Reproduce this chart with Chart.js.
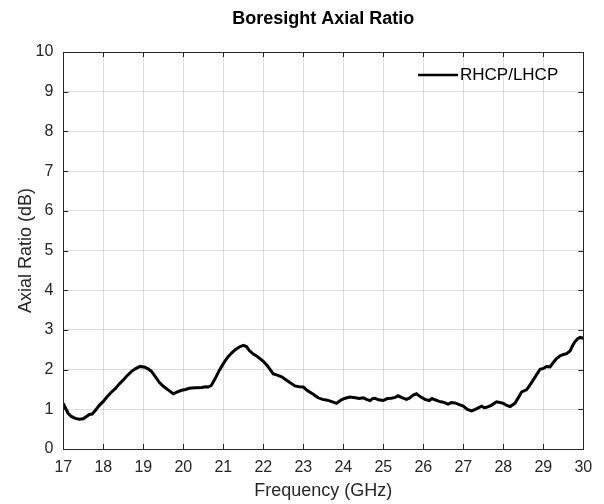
<!DOCTYPE html>
<html>
<head>
<meta charset="utf-8">
<script src="https://cdn.jsdelivr.net/npm/chart.js@4/dist/chart.umd.min.js"></script>
<style>
  html, body { margin: 0; padding: 0; background: #fff; }
  #wrap { width: 604px; height: 504px; }
</style>
</head>
<body>
<div id="wrap"><canvas id="grafico" width="604" height="504"></canvas></div>
<script>
// Dados (frequência em GHz, razão axial em dB)
const frequencias = [
  17.00, 17.06, 17.12, 17.20, 17.30, 17.40, 17.50, 17.58, 17.65, 17.72,
  17.80, 17.90, 18.00, 18.10, 18.20, 18.30, 18.40, 18.50, 18.60, 18.70,
  18.80, 18.92, 19.04, 19.12, 19.20, 19.30, 19.40, 19.50, 19.62, 19.75,
  19.85, 19.96, 20.05, 20.15, 20.30, 20.46, 20.55, 20.62, 20.70, 20.80,
  20.90, 21.00, 21.10, 21.20, 21.30, 21.40, 21.50, 21.58, 21.65, 21.75,
  21.85, 22.00, 22.10, 22.25, 22.35, 22.46, 22.60, 22.79, 22.90, 23.00,
  23.10, 23.25, 23.37, 23.48, 23.60, 23.75, 23.83, 23.95, 24.05, 24.17,
  24.30, 24.40, 24.50, 24.58, 24.67, 24.73, 24.79, 24.88, 25.00, 25.10,
  25.20, 25.30, 25.37, 25.45, 25.58, 25.65, 25.75, 25.83, 25.92, 26.04,
  26.15, 26.22, 26.29, 26.40, 26.50, 26.62, 26.70, 26.79, 26.90, 27.00,
  27.10, 27.21, 27.30, 27.40, 27.46, 27.52, 27.58, 27.70, 27.83, 27.92,
  28.00, 28.10, 28.17, 28.29, 28.38, 28.46, 28.58, 28.66, 28.75, 28.85,
  28.92, 29.00, 29.08, 29.17, 29.25, 29.33, 29.42, 29.50, 29.58, 29.67,
  29.73, 29.79, 29.86, 29.92, 30.00
];
const razaoAxial = [
  1.15, 1.02, 0.90, 0.82, 0.77, 0.75, 0.76, 0.82, 0.87, 0.88,
  0.97, 1.10, 1.20, 1.32, 1.43, 1.52, 1.64, 1.74, 1.85, 1.95,
  2.02, 2.08, 2.06, 2.02, 1.96, 1.82, 1.68, 1.58, 1.49, 1.39,
  1.44, 1.48, 1.50, 1.53, 1.54, 1.55, 1.57, 1.56, 1.60, 1.78,
  1.98, 2.15, 2.30, 2.41, 2.50, 2.57, 2.61, 2.58, 2.48, 2.39,
  2.33, 2.21, 2.10, 1.89, 1.86, 1.82, 1.72, 1.59, 1.57, 1.56,
  1.47, 1.38, 1.29, 1.25, 1.23, 1.18, 1.15, 1.24, 1.28, 1.31,
  1.29, 1.27, 1.29, 1.25, 1.22, 1.27, 1.28, 1.24, 1.22, 1.27,
  1.28, 1.30, 1.34, 1.30, 1.25, 1.28, 1.36, 1.39, 1.32, 1.25,
  1.22, 1.27, 1.24, 1.20, 1.18, 1.13, 1.17, 1.16, 1.12, 1.08,
  1.00, 0.96, 1.00, 1.05, 1.08, 1.04, 1.05, 1.10, 1.19, 1.17,
  1.15, 1.09, 1.07, 1.15, 1.30, 1.44, 1.49, 1.60, 1.74, 1.90,
  2.01, 2.03, 2.08, 2.07, 2.18, 2.28, 2.35, 2.38, 2.40, 2.47,
  2.60, 2.70, 2.78, 2.81, 2.79
];
const ticksX = [17, 18, 19, 20, 21, 22, 23, 24, 25, 26, 27, 28, 29, 30];
const ticksY = [0, 1, 2, 3, 4, 5, 6, 7, 8, 9, 10];

const tituloGrafico = 'Boresight Axial Ratio';
const tituloX = 'Frequency (GHz)';
const tituloY = 'Axial Ratio (dB)';
const rotuloSerie = 'RHCP/LHCP';

const FONTE = '"Liberation Sans", Arial, Helvetica, sans-serif';
const COR_TEXTO = '#262626';

// Título centralizado sobre a área do gráfico (estilo MATLAB)
const pluginTitulo = {
  id: 'pluginTitulo',
  afterDraw(chart) {
    const { ctx, chartArea } = chart;
    ctx.save();
    ctx.font = 'bold 18px ' + FONTE;
    ctx.fillStyle = '#000';
    ctx.textAlign = 'center';
    ctx.textBaseline = 'alphabetic';
    ctx.fillText(tituloGrafico, (chartArea.left + chartArea.right) / 2, 24);
    ctx.restore();
  }
};

// Caixa dos eixos e marcas internas nos quatro lados
const pluginCaixa = {
  id: 'pluginCaixa',
  afterDatasetsDraw(chart) {
    const { ctx, chartArea: a, scales } = chart;
    const tam = 5;
    ctx.save();
    ctx.strokeStyle = COR_TEXTO;
    ctx.lineWidth = 1;
    ctx.beginPath();
    scales.x.ticks.forEach(t => {
      const px = Math.round(scales.x.getPixelForValue(t.value)) + 0.5;
      ctx.moveTo(px, a.bottom); ctx.lineTo(px, a.bottom - tam);
      ctx.moveTo(px, a.top); ctx.lineTo(px, a.top + tam);
    });
    scales.y.ticks.forEach(t => {
      const py = Math.round(scales.y.getPixelForValue(t.value)) + 0.5;
      ctx.moveTo(a.left, py); ctx.lineTo(a.left + tam, py);
      ctx.moveTo(a.right, py); ctx.lineTo(a.right - tam, py);
    });
    ctx.stroke();
    ctx.strokeRect(Math.round(a.left) + 0.5, Math.round(a.top) + 0.5,
      Math.round(a.right - a.left), Math.round(a.bottom - a.top));
    ctx.restore();
  }
};

// Legenda dentro da área do gráfico, canto superior direito, sem caixa
const pluginLegenda = {
  id: 'pluginLegenda',
  afterDraw(chart) {
    const { ctx } = chart;
    const ds = chart.data.datasets[0];
    ctx.save();
    ctx.strokeStyle = ds.borderColor;
    ctx.lineWidth = 2.5;
    ctx.beginPath();
    ctx.moveTo(418, 75);
    ctx.lineTo(458, 75);
    ctx.stroke();
    ctx.font = '17px ' + FONTE;
    ctx.fillStyle = '#000';
    ctx.textAlign = 'left';
    ctx.textBaseline = 'middle';
    ctx.fillText(ds.label, 460, 75);
    ctx.restore();
  }
};

const ctx = document.getElementById('grafico');

new Chart(ctx, {
  type: 'line',
  data: {
    datasets: [{
      label: rotuloSerie,
      data: frequencias.map((f, i) => ({ x: f, y: razaoAxial[i] })),
      borderColor: '#000',
      borderWidth: 3,
      pointRadius: 0,
      tension: 0,
      fill: false
    }]
  },
  options: {
    responsive: false,
    animation: false,
    layout: { padding: { top: 52, right: 20.7, left: 0, bottom: 0 } },
    plugins: {
      legend: { display: false },
      title: { display: false },
      tooltip: { enabled: false }
    },
    scales: {
      x: {
        type: 'linear',
        min: 17,
        max: 30,
        afterFit(scale) { scale.height = 55; },
        afterBuildTicks(scale) { scale.ticks = ticksX.map(v => ({ value: v })); },
        ticks: {
          padding: 9,
          color: COR_TEXTO,
          font: { family: FONTE, size: 16 },
          maxRotation: 0,
          autoSkip: false
        },
        grid: { color: 'rgba(38,38,38,0.15)', drawTicks: false },
        border: { display: false },
        title: {
          display: true,
          text: tituloX,
          color: COR_TEXTO,
          font: { family: FONTE, size: 18 },
          padding: { top: 0, bottom: 2 }
        }
      },
      y: {
        type: 'linear',
        min: 0,
        max: 10,
        afterFit(scale) { scale.width = 63.3; },
        afterBuildTicks(scale) { scale.ticks = ticksY.map(v => ({ value: v })); },
        ticks: {
          padding: 10,
          color: COR_TEXTO,
          font: { family: FONTE, size: 16 },
          autoSkip: false
        },
        grid: { color: 'rgba(38,38,38,0.15)', drawTicks: false },
        border: { display: false },
        title: {
          display: true,
          text: tituloY,
          color: COR_TEXTO,
          font: { family: FONTE, size: 18 },
          padding: { top: 15, bottom: 0 }
        }
      }
    }
  },
  plugins: [pluginTitulo, pluginCaixa, pluginLegenda]
});
</script>
</body>
</html>
